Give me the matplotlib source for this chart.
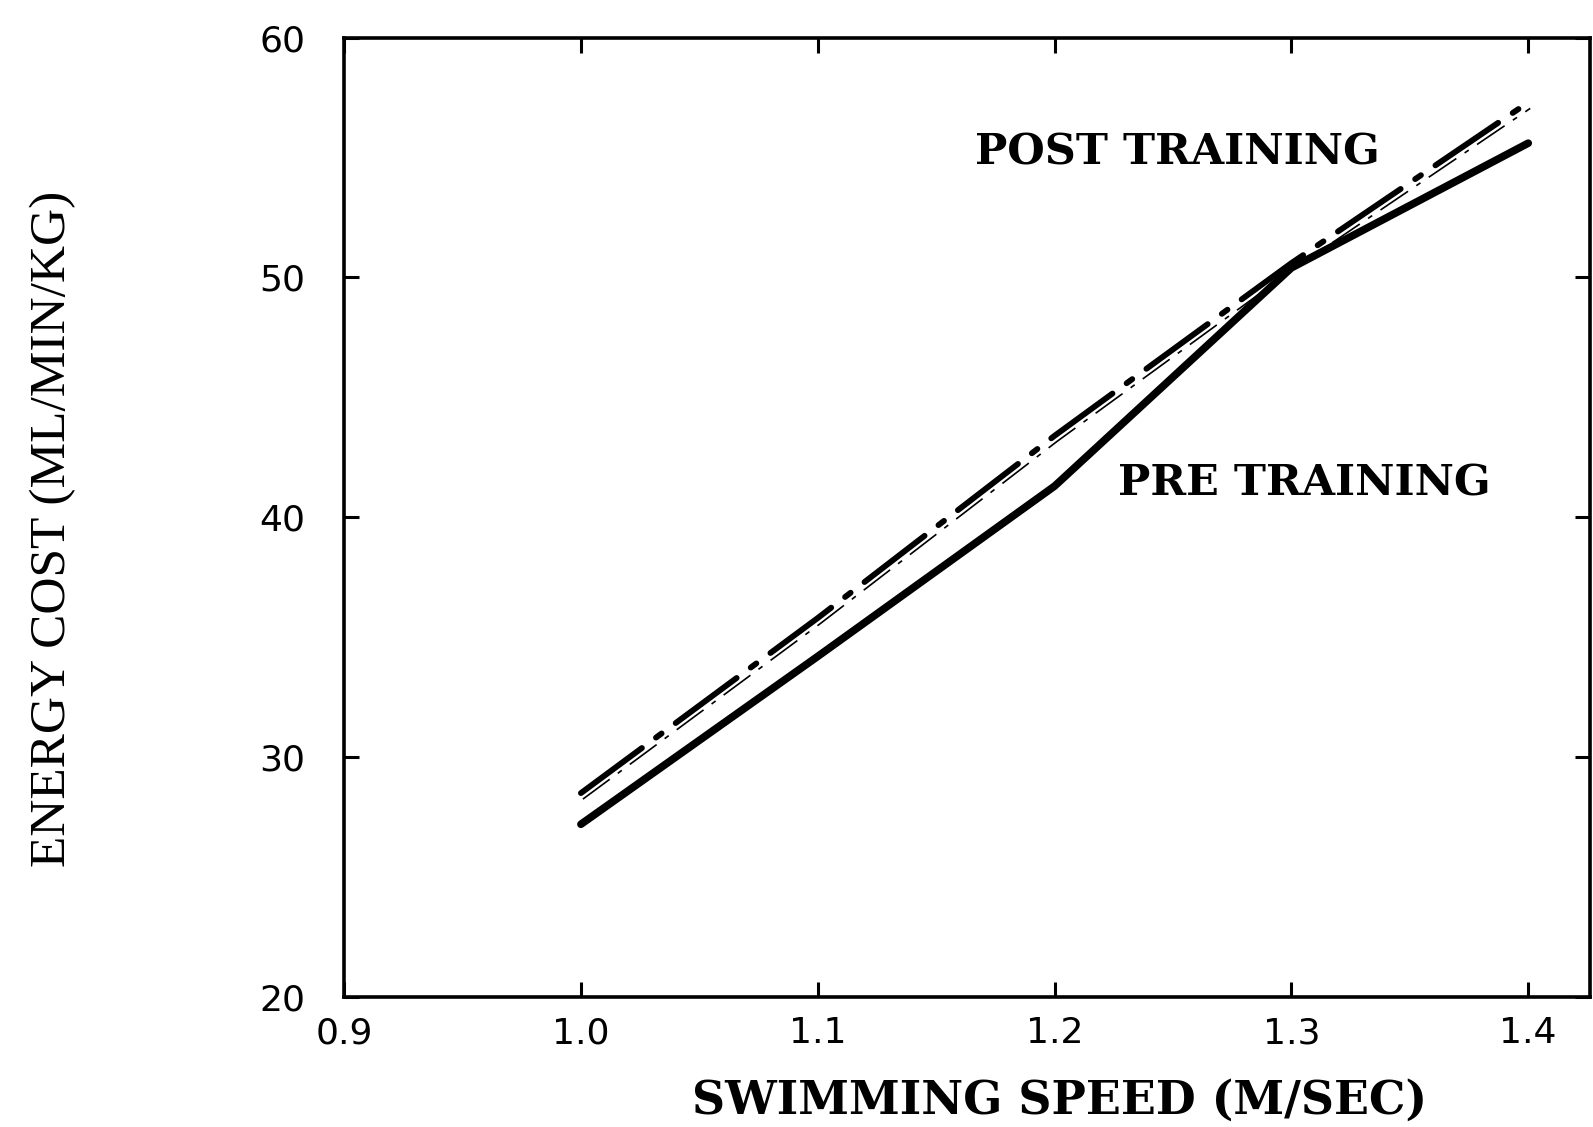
import matplotlib
matplotlib.use("Agg")
import matplotlib.pyplot as plt
import matplotlib.transforms as mtransforms

# Swimming speed (m/s) and energy cost (ml/min/kg)
speed = [1.0, 1.1, 1.2, 1.3, 1.4]
pre_training = [27.2, 34.2, 41.3, 50.4, 55.6]
post_training = [28.5, 35.8, 43.4, 50.6, 57.3]

x_ticks = [0.9, 1.0, 1.1, 1.2, 1.3, 1.4]
x_ticklabels = ["0.9", "1.0", "1.1", "1.2", "1.3", "1.4"]
y_ticks = [20, 30, 40, 50, 60]
y_ticklabels = ["20", "30", "40", "50", "60"]

fig = plt.figure(figsize=(15.93, 11.27), dpi=100)
ax = fig.add_axes([0.216, 0.1154, 0.782, 0.8512])

# Pre-training: heavy solid line
ax.plot(speed, pre_training, color="black", lw=5.5, solid_capstyle="round",
        solid_joinstyle="round")

# Post-training: long dash / dot pattern with a thin trailing stroke
ax.plot(speed, post_training, color="black", lw=4.2, dash_capstyle="round",
        dashes=(13, 3, 1.2, 3))
shadow = ax.transData + mtransforms.ScaledTranslation(0.02, -0.06, fig.dpi_scale_trans)
ax.plot(speed, post_training, color="black", lw=1.2, dashes=(20, 6, 3, 6),
        transform=shadow)

ax.text(1.1665, 55.2, "POST TRAINING", fontsize=31, fontweight="bold",
        family="DejaVu Serif", va="center", ha="left")
ax.text(1.2266, 41.4, "PRE TRAINING", fontsize=31, fontweight="bold",
        family="DejaVu Serif", va="center", ha="left")

ax.set_xlim(0.9, 1.426)
ax.set_ylim(20, 60)
ax.set_xticks(x_ticks)
ax.set_xticklabels(x_ticklabels)
ax.set_yticks(y_ticks)
ax.set_yticklabels(y_ticklabels)

for side in ["left", "right", "top", "bottom"]:
    ax.spines[side].set_linewidth(2.6)

ax.tick_params(axis="both", direction="in", length=11, width=2.2,
               top=True, right=True, labelsize=26)
ax.tick_params(axis="x", pad=14)
ax.tick_params(axis="y", pad=28)
for lab in ax.get_xticklabels() + ax.get_yticklabels():
    lab.set_family("DejaVu Sans")

fig.text(0.033, 0.531, "ENERGY COST (ML/MIN/KG)", rotation=90, fontsize=37,
         family="Liberation Serif", ha="center", va="center")
fig.text(0.665, 0.0234, "SWIMMING SPEED (M/SEC)", fontsize=33, fontweight="bold",
         family="DejaVu Serif", ha="center", va="center")

fig.savefig("out.png", dpi=100, facecolor="white")
